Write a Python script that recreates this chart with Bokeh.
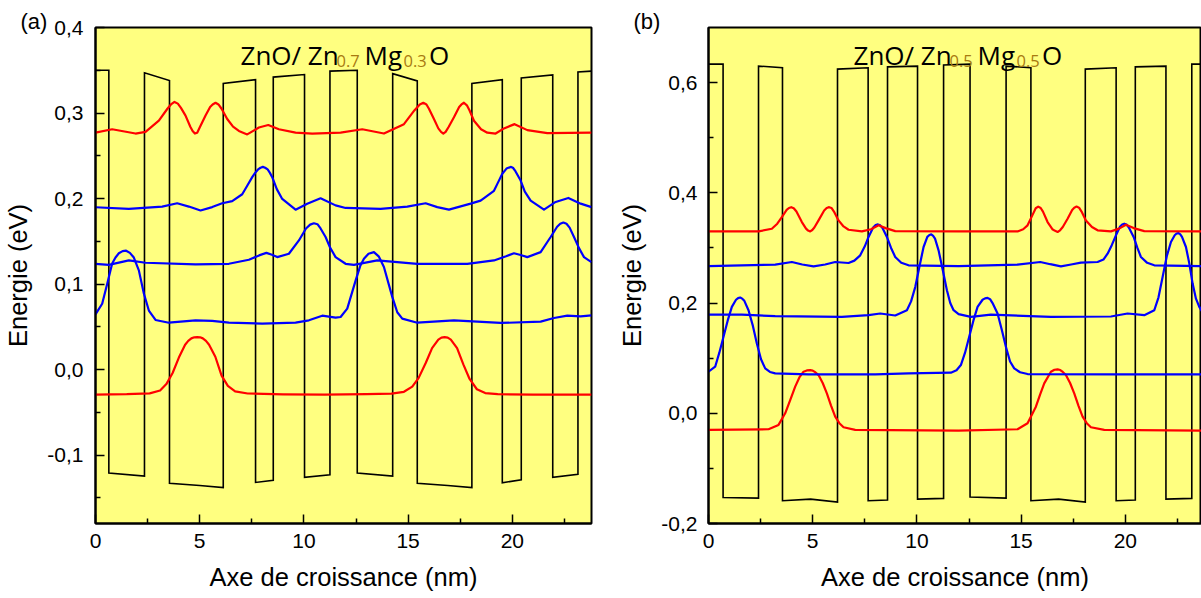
from bokeh.plotting import figure
from bokeh.models import FixedTicker, Label, Range1d
from bokeh.layouts import row
from bokeh.embed import file_html
from bokeh.resources import INLINE

# ---------------- panel (a): ZnO / Zn0.7Mg0.3O ----------------
a_cb_x = [0, 0.64, 0.64, 2.35, 2.35, 3.55, 3.55, 5.0, 6.13, 6.13, 7.68, 7.68, 8.53, 8.53,
          10.03, 10.03, 11.25, 11.25, 12.56, 12.56, 14.26, 14.26, 15.44, 15.44, 16.9, 18.06,
          18.06, 19.52, 19.52, 20.43, 20.43, 21.94, 21.94, 23.15, 23.15, 23.8]
a_cb_y = [0.350, 0.350, -0.121, -0.1245, 0.347, 0.338, -0.133, -0.1355, -0.138, 0.3345,
          0.339, -0.132, -0.1295, 0.342, 0.345, -0.126, -0.123, 0.349, 0.350, -0.121,
          -0.1245, 0.346, 0.3376, -0.133, -0.1355, -0.138, 0.3345, 0.339, -0.1323, -0.129,
          0.341, 0.3445, -0.126, -0.1225, 0.348, 0.349]

a_e1_x = [0, 1.5, 2.6, 3.1, 3.4, 3.7, 4.0, 4.3, 4.45, 4.6, 4.74, 4.88, 5.02, 5.15, 5.3, 5.45,
          5.75, 6.05, 6.35, 6.7, 7.3, 9, 11, 13, 14.2, 14.8, 15.2, 15.5, 15.85, 16.15, 16.45,
          16.6, 16.75, 16.9, 17.05, 17.35, 17.65, 17.95, 18.3, 18.7, 19.3, 21, 23.8]
a_e1_y = [-0.0292, -0.0288, -0.0278, -0.0245, -0.017, -0.004, 0.014, 0.029, 0.0335, 0.0365,
          0.0377, 0.038, 0.0377, 0.0365, 0.0335, 0.029, 0.015, -0.007, -0.019, -0.0255,
          -0.028, -0.029, -0.0292, -0.0288, -0.0282, -0.026, -0.02, -0.01, 0.008, 0.025,
          0.035, 0.0374, 0.038, 0.0374, 0.035, 0.025, 0.006, -0.011, -0.023, -0.0275,
          -0.0288, -0.0292, -0.0292]

a_e2_x = [0, 0.32, 0.56, 0.8, 0.96, 1.12, 1.3, 1.47, 1.65, 1.84, 2.08, 2.32, 2.56, 2.88,
          3.52, 4.8, 5.6, 6.4, 8, 9.6, 10.24, 10.88, 11.52, 11.76, 12.08, 12.48, 12.7, 12.88,
          13.1, 13.36, 13.6, 13.84, 14.24, 14.48, 14.72, 15.44, 17.2, 19.44, 21.36, 22.0,
          22.64, 23.28, 23.8]
a_e2_y = [0.0646, 0.077, 0.1, 0.124, 0.131, 0.136, 0.1385, 0.139, 0.1365, 0.131, 0.116,
          0.089, 0.069, 0.058, 0.0548, 0.0576, 0.057, 0.0548, 0.0537, 0.0548, 0.0576, 0.063,
          0.0607, 0.0615, 0.0712, 0.104, 0.121, 0.1295, 0.1355, 0.1373, 0.132, 0.12, 0.085,
          0.067, 0.0595, 0.0548, 0.0576, 0.0545, 0.056, 0.0603, 0.063, 0.0622, 0.0634]

a_e3_x = [0, 0.64, 1.6, 2.4, 4.8, 6.4, 7.36, 7.85, 8.2, 8.5, 8.72, 9.28, 9.76, 10.1, 10.3,
          10.48, 10.65, 10.8, 11.04, 11.25, 11.52, 12.0, 12.4, 13.52, 15.44, 17.84, 19.12,
          19.7, 20.08, 20.4, 20.72, 21.36, 21.84, 22.15, 22.3, 22.45, 22.6, 22.75, 22.96,
          23.2, 23.44, 23.8]
a_e3_y = [0.1237, 0.1225, 0.1276, 0.1249, 0.1229, 0.1237, 0.1284, 0.1335, 0.1365, 0.134,
          0.1315, 0.1354, 0.151, 0.165, 0.1695, 0.1711, 0.170, 0.165, 0.155, 0.143, 0.1315,
          0.1237, 0.1225, 0.1276, 0.1237, 0.1237, 0.1276, 0.1325, 0.136, 0.134, 0.1315,
          0.1373, 0.155, 0.167, 0.1705, 0.1719, 0.1705, 0.166, 0.155, 0.142, 0.1315, 0.1256]

a_e4_x = [0, 1.6, 3.2, 3.92, 4.48, 5.04, 5.6, 6.08, 6.56, 7.04, 7.28, 7.52, 7.66, 7.8, 7.92,
          8.03, 8.14, 8.26, 8.37, 8.48, 8.7, 8.96, 9.6, 10.16, 10.8, 11.52, 12.0, 13.68,
          14.96, 15.84, 16.4, 16.96, 18.0, 18.48, 19.12, 19.3, 19.52, 19.72, 19.92, 20.03,
          20.15, 20.4, 20.6, 20.88, 21.52, 22.08, 22.69, 23.28, 23.8]
a_e4_y = [0.1898, 0.188, 0.1906, 0.1945, 0.1906, 0.186, 0.19, 0.1945, 0.197, 0.205, 0.215,
          0.225, 0.230, 0.234, 0.236, 0.237, 0.236, 0.234, 0.230, 0.225, 0.211, 0.1995,
          0.187, 0.194, 0.2003, 0.192, 0.189, 0.188, 0.1906, 0.1945, 0.19, 0.187, 0.194,
          0.1976, 0.209, 0.218, 0.229, 0.235, 0.237, 0.236, 0.232, 0.221, 0.208, 0.1976,
          0.187, 0.196, 0.2007, 0.194, 0.19]

a_e5_x = [0, 0.8, 1.92, 2.4, 3.04, 3.45, 3.62, 3.79, 3.95, 4.1, 4.32, 4.55, 4.66, 4.77, 4.88,
          5.0, 5.28, 5.5, 5.62, 5.76, 5.9, 6.05, 6.32, 6.6, 6.88, 7.28, 7.84, 8.29, 8.8, 9.6,
          10.4, 11.76, 12.8, 13.84, 14.8, 15.3, 15.56, 15.73, 15.88, 16.0, 16.24, 16.45,
          16.58, 16.69, 16.8, 16.95, 17.2, 17.45, 17.56, 17.68, 17.82, 17.95, 18.16, 18.5,
          18.8, 19.2, 19.6, 20.11, 20.72, 21.68, 23.8]
a_e5_y = [0.277, 0.281, 0.276, 0.278, 0.291, 0.305, 0.310, 0.313, 0.311, 0.306, 0.297,
          0.284, 0.279, 0.276, 0.277, 0.283, 0.297, 0.307, 0.310, 0.312, 0.310, 0.305, 0.293,
          0.284, 0.279, 0.275, 0.283, 0.286, 0.281, 0.277, 0.276, 0.277, 0.281, 0.276,
          0.287, 0.303, 0.310, 0.312, 0.310, 0.305, 0.293, 0.282, 0.278, 0.276, 0.278,
          0.284, 0.295, 0.307, 0.310, 0.312, 0.309, 0.303, 0.291, 0.281, 0.277, 0.276,
          0.282, 0.287, 0.280, 0.2765, 0.277]

# ---------------- panel (b): ZnO / Zn0.5Mg0.5O ----------------
b_cb_x = [0, 0.70, 0.70, 2.40, 2.40, 3.55, 3.55, 4.9, 6.19, 6.19, 7.66, 7.66, 8.59, 8.59,
          10.03, 10.03, 11.28, 11.28, 12.55, 12.55, 14.28, 14.28, 15.47, 15.47, 16.8, 18.08,
          18.08, 19.56, 19.56, 20.48, 20.48, 21.95, 21.95, 23.19, 23.19, 23.7]
b_cb_y = [0.6335, 0.6335, -0.1527, -0.154, 0.630, 0.627, -0.1587, -0.1557, -0.161, 0.6245,
          0.627, -0.1587, -0.1575, 0.6286, 0.630, -0.1557, -0.1545, 0.632, 0.6335, -0.152,
          -0.154, 0.630, 0.627, -0.1587, -0.1557, -0.161, 0.6245, 0.627, -0.1587, -0.1575,
          0.6286, 0.630, -0.1557, -0.1545, 0.6335, 0.6335]

b_e1_x = [0, 2.88, 3.36, 3.68, 3.92, 4.16, 4.36, 4.56, 4.72, 4.88, 5.0, 5.1, 5.28, 5.48,
          5.68, 5.88, 6.08, 6.28, 6.48, 7.04, 12, 14.83, 15.31, 15.71, 15.91, 16.11, 16.43,
          16.6, 16.75, 16.88, 17.0, 17.15, 17.35, 17.55, 17.75, 17.95, 18.15, 18.35, 18.99,
          23.7]
b_e1_y = [-0.0302, -0.029, -0.0211, 0.0, 0.024, 0.0483, 0.065, 0.0754, 0.0778, 0.0784,
          0.0775, 0.075, 0.0694, 0.055, 0.0362, 0.014, -0.006, -0.018, -0.0253, -0.0302,
          -0.0314, -0.029, -0.0181, 0.012, 0.034, 0.0543, 0.0754, 0.079, 0.0796, 0.0785,
          0.075, 0.0694, 0.055, 0.0362, 0.014, -0.006, -0.018, -0.0253, -0.0302, -0.0314]

b_e2_x = [0, 0.32, 0.52, 0.72, 0.92, 1.12, 1.32, 1.42, 1.52, 1.62, 1.72, 1.92, 2.12, 2.32,
          2.52, 2.72, 2.95, 3.2, 4.8, 8, 9.6, 11.63, 11.9, 12.11, 12.31, 12.51, 12.71, 12.91,
          13.15, 13.27, 13.39, 13.51, 13.63, 13.87, 14.07, 14.27, 14.47, 14.67, 14.95, 15.31,
          19.63, 23.7]
b_e2_y = [0.0754, 0.0845, 0.11, 0.1388, 0.168, 0.193, 0.206, 0.209, 0.21, 0.208, 0.204,
          0.187, 0.16, 0.1267, 0.098, 0.0814, 0.075, 0.0724, 0.0706, 0.0706, 0.0724, 0.0736,
          0.078, 0.0875, 0.11, 0.1388, 0.168, 0.193, 0.206, 0.2085, 0.2094, 0.207, 0.2,
          0.181, 0.152, 0.1207, 0.094, 0.0814, 0.0745, 0.0712, 0.0706, 0.0706]

b_e3_x = [0, 1.6, 3.2, 6.4, 7.68, 8.24, 8.96, 9.52, 9.72, 9.92, 10.12, 10.32, 10.5, 10.6,
          10.69, 10.78, 10.87, 11.04, 11.24, 11.44, 11.6, 11.76, 12.0, 12.59, 13.55, 16.43,
          19.31, 20.11, 20.91, 21.39, 21.59, 21.79, 21.99, 22.19, 22.37, 22.46, 22.54, 22.63,
          22.72, 22.91, 23.07, 23.23, 23.39, 23.55, 23.7]
b_e3_y = [0.179, 0.179, 0.1762, 0.175, 0.178, 0.181, 0.1774, 0.187, 0.203, 0.229, 0.266,
          0.3017, 0.320, 0.3235, 0.3246, 0.322, 0.317, 0.2956, 0.26, 0.2232, 0.200, 0.187,
          0.18, 0.175, 0.179, 0.175, 0.1756, 0.181, 0.178, 0.187, 0.21, 0.2474, 0.285,
          0.3107, 0.323, 0.3262, 0.327, 0.325, 0.32, 0.3017, 0.272, 0.2353, 0.208, 0.193,
          0.184]

b_e4_x = [0, 3.2, 4.0, 4.5, 5.04, 5.6, 6.08, 6.72, 7.0, 7.28, 7.5, 7.68, 7.9, 8.02, 8.13,
          8.24, 8.35, 8.56, 8.76, 8.96, 9.25, 9.6, 12, 14.83, 15.92, 16.4, 16.91, 17.4, 17.87,
          18.67, 18.95, 19.15, 19.35, 19.55, 19.75, 19.85, 19.95, 20.06, 20.17, 20.4, 20.58,
          20.75, 21.05, 21.39, 23.7]
b_e4_y = [0.267, 0.2697, 0.2745, 0.270, 0.2667, 0.270, 0.2745, 0.2727, 0.277, 0.2866,
          0.303, 0.32, 0.337, 0.3415, 0.3427, 0.341, 0.336, 0.32, 0.30, 0.2836, 0.273,
          0.2685, 0.267, 0.2697, 0.2745, 0.2705, 0.2667, 0.270, 0.2733, 0.2745, 0.279,
          0.2896, 0.305, 0.3228, 0.339, 0.3425, 0.344, 0.3425, 0.337, 0.32, 0.30, 0.2836,
          0.273, 0.2685, 0.267]

b_e5_x = [0, 2.4, 3.04, 3.3, 3.52, 3.75, 3.86, 3.97, 4.09, 4.22, 4.48, 4.68, 4.78, 4.88,
          4.98, 5.08, 5.28, 5.55, 5.67, 5.79, 5.9, 6.02, 6.24, 6.48, 6.72, 7.36, 7.8, 8.16,
          8.5, 8.96, 12, 14.83, 15.1, 15.31, 15.55, 15.7, 15.82, 15.94, 16.05, 16.27, 16.5,
          16.63, 16.75, 16.87, 17.0, 17.23, 17.45, 17.55, 17.66, 17.78, 17.9, 18.11, 18.4,
          18.67, 19.31, 19.7, 20.03, 20.4, 20.91, 23.7]
b_e5_y = [0.330, 0.330, 0.3348, 0.344, 0.356, 0.369, 0.3725, 0.374, 0.372, 0.366, 0.347,
          0.335, 0.3315, 0.330, 0.3325, 0.337, 0.35, 0.368, 0.3725, 0.374, 0.3725, 0.366,
          0.35, 0.339, 0.333, 0.330, 0.334, 0.341, 0.336, 0.3306, 0.330, 0.330, 0.334, 0.341,
          0.36, 0.372, 0.375, 0.3725, 0.366, 0.347, 0.334, 0.331, 0.329, 0.332, 0.338, 0.353,
          0.369, 0.373, 0.375, 0.373, 0.366, 0.35, 0.338, 0.332, 0.330, 0.335, 0.342, 0.336,
          0.3306, 0.330]

x_ticks = [0, 5, 10, 15, 20]
x_minor = [2.5, 7.5, 12.5, 17.5, 22.5]
a_yticks = [-0.1, 0.0, 0.1, 0.2, 0.3, 0.4]
a_ylabels = ["-0,1", "0,0", "0,1", "0,2", "0,3", "0,4"]
a_yminor = [-0.15, -0.05, 0.05, 0.15, 0.25, 0.35]
b_yticks = [-0.2, 0.0, 0.2, 0.4, 0.6]
b_ylabels = ["-0,2", "0,0", "0,2", "0,4", "0,6"]
b_yminor = [-0.1, 0.1, 0.3, 0.5]

a_title = ["ZnO/ Zn", "0.7", "Mg", "0.3", "O"]
b_title = ["ZnO/ Zn", "0.5", "Mg", "0.5", "O"]

RED = "#FF0000"
BLUE = "#0000FF"
YELLOW = "#FFFF80"
SUBCOL = "#A87A10"
TICK_FONT = "Liberation Sans"
H = 598
TOP = 27
FRAME_H = 496
PX_PER_NM = 496 / 23.8


def make_panel(width, mb_left, mb_right, xmax, ymin, ymax, yticks, ylabels, yminor,
               cb, curves, title, tag, tick_standoff):
    p = figure(width=width, height=H, x_range=Range1d(0, xmax), y_range=Range1d(ymin, ymax),
               output_backend="svg", toolbar_location=None,
               min_border_left=mb_left, min_border_right=mb_right,
               min_border_top=TOP, min_border_bottom=H - TOP - FRAME_H,
               background_fill_color=YELLOW, border_fill_color="white")
    p.grid.visible = False
    p.outline_line_color = "black"
    p.outline_line_width = 2
    xax = p.below[0]
    yax = p.left[0]
    xax.ticker = FixedTicker(ticks=x_ticks, minor_ticks=x_minor)
    yax.ticker = FixedTicker(ticks=yticks, minor_ticks=yminor)
    yax.major_label_overrides = {t: l for t, l in zip(yticks, ylabels)}
    for ax in (xax, yax):
        ax.major_tick_in = 9
        ax.major_tick_out = 0
        ax.minor_tick_in = 5
        ax.minor_tick_out = 0
        ax.major_tick_line_width = 1.5
        ax.minor_tick_line_width = 1.5
        ax.axis_line_width = 2
        ax.major_label_text_font = TICK_FONT
        ax.major_label_text_font_size = "21px"
        ax.major_label_text_color = "black"
        ax.axis_label_text_font = TICK_FONT
        ax.axis_label_text_font_size = "25.5px"
        ax.axis_label_text_font_style = "normal"
        ax.axis_label_text_color = "black"
    xax.axis_label = "Axe de croissance (nm)"
    yax.axis_label = "Energie (eV)"
    xax.major_label_standoff = 10
    xax.axis_label_standoff = 12
    yax.major_label_standoff = tick_standoff
    yax.axis_label_standoff = 12

    p.line(cb[0], cb[1], line_color="black", line_width=1.6, line_join="miter")
    for (cx, cy), col in curves:
        p.line(cx, cy, line_color=col, line_width=2.2, line_join="round")

    # title with subscripts, anchored at the frame's top-left
    x0 = 145.0 / PX_PER_NM
    offs = [0, 96, 124, 163, 188.5]
    for i, (txt, off) in enumerate(zip(title, offs)):
        sub = i in (1, 3)
        p.add_layout(Label(x=x0, y=ymax, x_offset=off, y_offset=-(33 if sub else 27.5),
                           text=txt, text_font="Open Sans",
                           text_font_size="16.5px" if sub else "26px",
                           text_color=SUBCOL if sub else "black",
                           text_baseline="alphabetic", text_align="left"))

    # panel tag "(a)" / "(b)" as the figure title, shifted left of the frame
    p.title.text = tag
    p.title.align = "left"
    p.title.offset = -75
    p.title.text_font = TICK_FONT
    p.title.text_font_size = "22px"
    p.title.text_font_style = "normal"
    p.title.text_color = "black"
    p.title.vertical_align = "bottom"
    try:
        p.title.standoff = -12
    except Exception:
        p.title.standoff = 0
    return p


pa = make_panel(600, 95, 9, 23.8, -0.18, 0.4, a_yticks, a_ylabels, a_yminor,
                (a_cb_x, a_cb_y),
                [((a_e1_x, a_e1_y), RED), ((a_e2_x, a_e2_y), BLUE), ((a_e3_x, a_e3_y), BLUE),
                 ((a_e4_x, a_e4_y), BLUE), ((a_e5_x, a_e5_y), RED)],
                a_title, "(a)", 12)
pb = make_panel(601, 108, 0, 493 / PX_PER_NM, -0.2, 0.7, b_yticks, b_ylabels, b_yminor,
                (b_cb_x, b_cb_y),
                [((b_e1_x, b_e1_y), RED), ((b_e2_x, b_e2_y), BLUE), ((b_e3_x, b_e3_y), BLUE),
                 ((b_e4_x, b_e4_y), BLUE), ((b_e5_x, b_e5_y), RED)],
                b_title, "(b)", 11)

layout = row(pa, pb)
open("out.html", "w").write(file_html(layout, INLINE))
